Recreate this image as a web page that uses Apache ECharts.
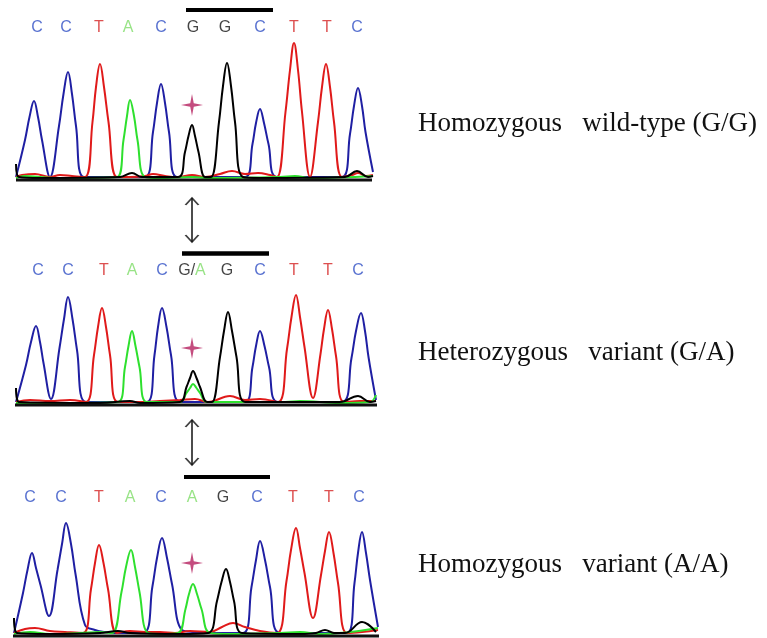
<!DOCTYPE html>
<html>
<head>
<meta charset="utf-8">
<script src="https://cdn.jsdelivr.net/npm/echarts@6/dist/echarts.min.js"></script>
<style>
html,body{margin:0;padding:0;background:#fff;}
#chart{width:767px;height:638px;}
</style>
</head>
<body>
<div id="chart"></div>
<script>
// ---------- DATA (x = trace position, y = signal height above baseline) ----------
// Base calls per panel
const seq1 = ['C','C','T','A','C','G','G','C','T','T','C'];
const seq2 = ['C','C','T','A','C','G/A','G','C','T','T','C'];
const seq3 = ['C','C','T','A','C','A','G','C','T','T','C'];
const seqX1 = [37,66,99,128,161,193,225,260,294,327,357];
const seqX2 = [38,68,104,132,162,192,227,260,294,328,358];
const seqX3 = [30,61,99,130,161,192,223,257,293,329,359];
const seqY = [152, 134, 138];

// Panel 1: homozygous wild-type (G/G)
const blue1  = [[16,3],[25,40],[29.5,63],[34,79],[38,63],[42,40],[50,3],[59,54],[63.5,86],[68,108],[72,86],[76,54],[84,3],[145,3],[153,48],[157,77],[161,96],[165,77],[169,48],[177,3],[245,3],[252.5,36],[256,57],[260,71],[264,57],[268.5,36],[277,3],[342,3],[350,46],[354,74],[358,92],[362,74],[365.5,48],[373,8]];
const red1   = [[16,3],[22,5],[35,6],[50,3],[60,5],[72,4],[85,3],[92.5,58],[96,93],[100,116],[104,93],[108.5,58],[117,3],[130,3],[145,4],[153,6],[165,4],[178,3],[192,5],[205,3],[220,6],[232,9],[245,6],[258,7],[270,5],[277,3],[285.5,68],[290,110],[294,137],[298,110],[302,68],[310,3],[318,58],[322,93],[326,116],[330,93],[334,58],[342,3],[352,5],[358,7],[366,4],[373,5]];
const green1 = [[16,2],[25,4],[40,3],[60,2],[117,3],[123.5,40],[127,64],[130,80],[134,64],[137.5,40],[145,3],[160,2],[192,3],[210,2],[280,3],[295,4],[310,2],[373,4]];
const black1 = [[16,16],[19,3],[40,2],[120,3],[132,7],[142,3],[178,3],[185,28],[188.5,44],[192,55],[195,44],[198.5,28],[205,3],[211,3],[219,58],[223,94],[227,117],[231,94],[235,58],[243,3],[260,2],[345,3],[357,9],[368,3],[373,4]];

// Panel 2: heterozygous variant (G/A)
const blue2  = [[16,3],[26,40],[31,63],[36,79],[40,63],[43.5,42],[51,6],[59.5,57],[64,86],[68,108],[72.5,86],[77,55],[86,3],[147,3],[154.5,50],[158,78],[162,97],[166.5,78],[171,50],[180,3],[245,3],[252.5,38],[256,59],[260,74],[264.5,59],[269,38],[278,3],[342,3],[351.5,47],[356,74],[361,92],[365,74],[368.5,48],[376,5]];
const red2   = [[16,3],[30,5],[50,4],[70,5],[86,3],[94,50],[98,78],[102,97],[106,78],[110,50],[118,3],[140,3],[160,4],[180,5],[195,6],[208,3],[230,9],[245,5],[260,6],[278,3],[287,56],[291.5,88],[296,110],[300,88],[304.5,58],[313,7],[320.5,51],[324,76],[328,95],[332,76],[336,49],[344,3],[360,4],[376,4]];
const green2 = [[16,2],[60,2],[118,3],[125,38],[128.5,59],[132,74],[135.5,59],[139.5,38],[147,3],[180,3],[186.5,12],[190,17],[193,21],[196.5,17],[200,12],[207,3],[285,3],[300,4],[340,2],[370,3],[376,10]];
const black2 = [[16,17],[19,3],[100,2],[130,4],[140,2],[180,3],[186.5,18],[190,27],[193,34],[196.5,27],[200,18],[207,3],[212,3],[220,48],[224,74],[228,93],[232,74],[236.5,48],[245,3],[340,3],[358,9],[370,3],[376,4]];

// Panel 3: homozygous variant (A/A)
const blue3  = [[14,3],[23,43],[27.5,66],[32,83],[36,68],[40.5,51],[49,20],[57.5,66],[62,92],[66,113],[71,92],[75.5,62],[85,11],[95,6],[105,4],[115,3],[143,3],[152.5,50],[157,78],[162,98],[167,78],[172,52],[182,6],[195,4],[210,3],[243,3],[251.5,49],[256,76],[260,95],[265,76],[270,49],[280,3],[347,3],[354.5,53],[358,83],[362,104],[366,83],[370,56],[378,9]];
const red3   = [[14,3],[25,7],[35,8],[50,5],[65,4],[83,3],[91,47],[95,73],[99,91],[103.5,73],[108,47],[117,3],[130,5],[145,4],[160,4],[175,3],[190,5],[210,4],[222,9],[233,13],[245,9],[260,5],[277,3],[286.5,55],[291,86],[296,108],[300,88],[304.5,63],[313,18],[321,61],[325,85],[329,104],[333.5,83],[338,53],[347,3],[362,4],[378,6]];
const green3 = [[14,2],[30,4],[50,2],[80,3],[100,4],[112,3],[121.5,44],[126,69],[131,86],[135,69],[139.5,44],[148,3],[160,2],[178,3],[185.5,27],[189,42],[193,52],[197,42],[201.5,27],[210,3],[230,2],[280,3],[300,4],[320,2],[378,8]];
const black3 = [[14,18],[17,3],[50,2],[100,3],[118,5],[130,3],[180,2],[208,3],[217,35],[221.5,54],[226,67],[230,54],[234,35],[242,3],[300,2],[316,3],[325,6],[334,3],[345,3],[362,14],[376,4]];

// Baselines, SNP bars, star markers and arrows
const baseline1 = [[16,0],[372,0]];
const baseline2 = [[15,0],[377,0]];
const baseline3 = [[13,0],[379,0]];
const snpBar1 = [[186,170],[273,170]];
const snpBar2 = [[182,151.5],[269,151.5]];
const snpBar3 = [[184,159],[270,159]];
const starPts = [[192,75],[192,57],[192,73]];
const arrow2 = [[192,207],[192,163]];
const arrow3 = [[192,216],[192,171]];

const genotypeLabels = ['Homozygous   wild-type (G/G)', 'Heterozygous   variant (G/A)', 'Homozygous   variant (A/A)'];
const labelY = [124, 352.5, 564.5];

// ---------- STYLE ----------
const TRACE = {C:'#1f1fa3', T:'#e01a1a', A:'#2ee02e', G:'#000000'};
const LETTER = {C:'#2f4fc4', T:'#d42424', A:'#7edc68', G:'#151515', S:'#151515'};
const STAR_PATH = 'path://M10,0 L11.6,8.4 L20,10 L11.6,11.6 L10,20 L8.4,11.6 L0,10 L8.4,8.4 Z';
const CHEVRON = 'path://M0,10 L10,0 L20,10';

function trace(data, color, gi){
  return {type:'line', xAxisIndex:gi, yAxisIndex:gi, data:data, smooth:0.4, symbol:'none',
    clip:false, lineStyle:{color:color, width:2}, z:3, silent:true};
}
function simpleLine(data, color, width, gi){
  return {type:'line', xAxisIndex:gi, yAxisIndex:gi, data:data, symbol:'none', clip:false,
    lineStyle:{color:color, width:width, cap:'butt'}, z:4, silent:true};
}
const rich = {};
Object.keys(LETTER).forEach(k => { rich[k] = {color:LETTER[k], fontSize:16, fontFamily:'"Liberation Sans", Arial, sans-serif'}; });
function letters(seq, xs, y, gi){
  return {type:'scatter', xAxisIndex:gi, yAxisIndex:gi, symbolSize:1, itemStyle:{color:'rgba(0,0,0,0)'},
    data: seq.map((s,i) => ({name:s, value:[xs[i], y]})),
    label:{show:true, position:'inside', rich:rich,
      formatter: p => p.name.split('').map(ch => '{' + (ch === '/' ? 'S' : ch) + '|' + ch + '}').join('')},
    z:5, silent:true};
}
function star(pt, gi){
  return {type:'scatter', xAxisIndex:gi, yAxisIndex:gi, data:[pt], symbol:STAR_PATH, symbolSize:22,
    itemStyle:{color:'#b5215f'}, z:6, silent:true};
}
function arrow(pts, gi){
  return [
    simpleLine(pts, '#111', 1.5, gi),
    {type:'scatter', xAxisIndex:gi, yAxisIndex:gi, clip:false, silent:true, z:6,
     data:[{value:pts[0], symbolRotate:0, symbolOffset:[0,3.5]}, {value:pts[1], symbolRotate:180, symbolOffset:[0,-3.5]}],
     symbol:CHEVRON, symbolSize:[13,7], itemStyle:{color:'rgba(0,0,0,0)', borderColor:'#111', borderWidth:1.5}}
  ];
}

const series = [
  trace(blue1, TRACE.C, 0), trace(red1, TRACE.T, 0), trace(green1, TRACE.A, 0), trace(black1, TRACE.G, 0),
  trace(blue2, TRACE.C, 1), trace(red2, TRACE.T, 1), trace(green2, TRACE.A, 1), trace(black2, TRACE.G, 1),
  trace(blue3, TRACE.C, 2), trace(red3, TRACE.T, 2), trace(green3, TRACE.A, 2), trace(black3, TRACE.G, 2),
  simpleLine(baseline1, '#111', 3, 0), simpleLine(baseline2, '#111', 3, 1), simpleLine(baseline3, '#111', 3, 2),
  simpleLine(snpBar1, '#000', 4, 0), simpleLine(snpBar2, '#000', 4.5, 1), simpleLine(snpBar3, '#000', 4, 2),
  letters(seq1, seqX1, seqY[0], 0), letters(seq2, seqX2, seqY[1], 1), letters(seq3, seqX3, seqY[2], 2),
  star(starPts[0], 0), star(starPts[1], 1), star(starPts[2], 2),
  ...arrow(arrow2, 1), ...arrow(arrow3, 2)
];

const option = {
  animation:false,
  backgroundColor:'#ffffff',
  grid:[
    {left:12, width:368, top:0, height:180},
    {left:12, width:368, top:190, height:215},
    {left:12, width:368, top:416, height:220}
  ],
  xAxis:[0,1,2].map(i => ({type:'value', gridIndex:i, min:12, max:380, show:false})),
  yAxis:[
    {type:'value', gridIndex:0, min:0, max:180, show:false},
    {type:'value', gridIndex:1, min:0, max:215, show:false},
    {type:'value', gridIndex:2, min:0, max:220, show:false}
  ],
  graphic: genotypeLabels.map((t,i) => ({type:'text', x:418, y:labelY[i], silent:true,
    style:{text:t, fill:'#111', font:'27px "Liberation Serif", "Times New Roman", serif', verticalAlign:'middle', align:'left'}})),
  series: series
};

const chart = echarts.init(document.getElementById('chart'), null, {renderer:'canvas'});
chart.setOption(option);
</script>
</body>
</html>
